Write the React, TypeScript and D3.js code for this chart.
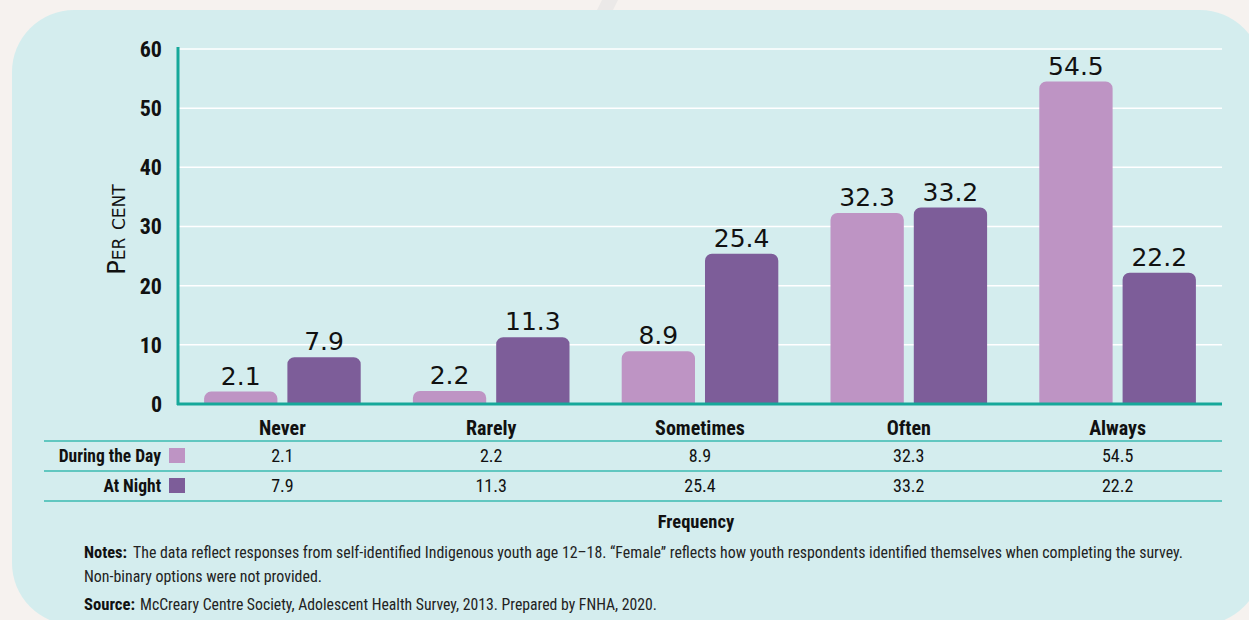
import React from "react";
import * as d3 from "d3";

const categories = ["Never", "Rarely", "Sometimes", "Often", "Always"];
const seriesNames = ["During the Day", "At Night"];
const dayValues = [2.1, 2.2, 8.9, 32.3, 54.5];
const nightValues = [7.9, 11.3, 25.4, 33.2, 22.2];
const dayLabels = ["2.1", "2.2", "8.9", "32.3", "54.5"];
const nightLabels = ["7.9", "11.3", "25.4", "33.2", "22.2"];
const yTicks = [0, 10, 20, 30, 40, 50, 60];
const seriesColors = ["#be94c4", "#7d5d99"];

const W = 1249;
const H = 620;
const left = 178;
const right = 1222;
const top = 49;
const bottom = 404;

const narrow = "'Liberation Sans Narrow', 'Arial Narrow', 'Roboto Condensed', Roboto, sans-serif";
const round = "'DejaVu Sans', Lato, sans-serif";
const teal = "#16a89a";

function topRoundedRect(x: number, y: number, w: number, h: number, r: number) {
  const rr = Math.min(r, h, w / 2);
  const p = d3.path();
  p.moveTo(x, y + h);
  p.lineTo(x, y + rr);
  p.arcTo(x, y, x + rr, y, rr);
  p.lineTo(x + w - rr, y);
  p.arcTo(x + w, y, x + w, y + rr, rr);
  p.lineTo(x + w, y + h);
  p.closePath();
  return p.toString();
}

export default function App() {
  const x0 = d3.scaleBand<string>().domain(categories).range([left, right]).paddingInner(0.25).paddingOuter(0.125);
  const x1 = d3.scaleBand<string>().domain(seriesNames).range([0, x0.bandwidth()]).paddingInner(0.12);
  const y = d3.scaleLinear().domain([0, 60]).range([bottom, top]);
  const center = (c: string) => (x0(c) as number) + x0.bandwidth() / 2;
  const series = [dayValues, nightValues];
  const labels = [dayLabels, nightLabels];
  const rowY = [456, 486];
  const lineYs = [441, 471, 501];

  return (
    <svg width={W} height={H} style={{ position: "absolute", left: 0, top: 0, display: "block" }}>
      <rect x={0} y={0} width={W} height={H} fill="#f6f2ef" />
      <polygon points="597,10 613,10 618,0 602,0" fill="#ebe9e8" />
      <rect x={12} y={10} width={1250} height={615} rx={62} ry={62} fill="#d4edee" />

      {yTicks.map((t) => (
        <g key={t}>
          {t > 0 && <line x1={left} x2={right} y1={y(t)} y2={y(t)} stroke="#ffffff" strokeWidth={1.5} />}
          <text x={162} y={y(t)} dy="0.36em" textAnchor="end" fontFamily={narrow} fontWeight="bold" fontSize={22} fill="#111">
            {t}
          </text>
        </g>
      ))}

      <text
        transform={`translate(125,${(top + bottom) / 2 + 3}) rotate(-90)`}
        textAnchor="middle"
        fontFamily={round}
        fontSize={24}
        style={{ fontVariant: "small-caps" }}
        fill="#111"
      >
        Per cent
      </text>

      {categories.map((c, i) => (
        <g key={c} transform={`translate(${x0(c)},0)`}>
          {series.map((vals, s) => {
            const bx = x1(seriesNames[s]) as number;
            const bw = x1.bandwidth();
            return (
              <g key={s}>
                <path d={topRoundedRect(bx, y(vals[i]), bw, bottom - y(vals[i]), 7)} fill={seriesColors[s]} />
                <text
                  x={bx + bw / 2}
                  y={y(vals[i]) - 7}
                  textAnchor="middle"
                  fontFamily={round}
                  fontSize={25}
                  fill="#111"
                >
                  {labels[s][i]}
                </text>
              </g>
            );
          })}
        </g>
      ))}

      <line x1={left} x2={left} y1={top - 2} y2={bottom + 1} stroke={teal} strokeWidth={3} />
      <line x1={left - 1} x2={right} y1={bottom} y2={bottom} stroke={teal} strokeWidth={3} />

      {categories.map((c) => (
        <text key={c} x={center(c)} y={428} dy="0.36em" textAnchor="middle" fontFamily={narrow} fontWeight="bold" fontSize={20} fill="#111">
          {c}
        </text>
      ))}

      {lineYs.map((ly) => (
        <line key={ly} x1={44} x2={right} y1={ly} y2={ly} stroke="#3bbab0" strokeWidth={1.5} />
      ))}

      {seriesNames.map((name, s) => (
        <g key={name}>
          <text x={161} y={rowY[s]} dy="0.36em" textAnchor="end" fontFamily={narrow} fontWeight="bold" fontSize={17.5} fill="#111">
            {name}
          </text>
          <rect x={169} y={rowY[s] - 8} width={16} height={15} fill={seriesColors[s]} />
          {categories.map((c, i) => (
            <text key={c} x={center(c)} y={rowY[s]} dy="0.36em" textAnchor="middle" fontFamily={narrow} fontSize={18} fill="#111">
              {labels[s][i]}
            </text>
          ))}
        </g>
      ))}

      <text x={(left + right) / 2 - 4} y={521} dy="0.36em" textAnchor="middle" fontFamily={narrow} fontWeight="bold" fontSize={18.5} fill="#111">
        Frequency
      </text>

      <text x={84} y={558} fontFamily={narrow} fontWeight="bold" fontSize={17} fill="#111" textLength={43} lengthAdjust="spacingAndGlyphs">
        Notes:
      </text>
      <text x={133} y={558} fontFamily={narrow} fontSize={16} fill="#222" textLength={1050} lengthAdjust="spacingAndGlyphs">
        The data reflect responses from self-identified Indigenous youth age 12–18. “Female” reflects how youth respondents identified themselves when completing the survey.
      </text>
      <text x={84} y={582} fontFamily={narrow} fontSize={17} fill="#222" textLength={238} lengthAdjust="spacingAndGlyphs">
        Non-binary options were not provided.
      </text>
      <text x={84} y={610} fontFamily={narrow} fontWeight="bold" fontSize={17} fill="#111" textLength={51} lengthAdjust="spacingAndGlyphs">
        Source:
      </text>
      <text x={140} y={610} fontFamily={narrow} fontSize={17} fill="#222" textLength={517} lengthAdjust="spacingAndGlyphs">
        McCreary Centre Society, Adolescent Health Survey, 2013.  Prepared by FNHA, 2020.
      </text>
    </svg>
  );
}
